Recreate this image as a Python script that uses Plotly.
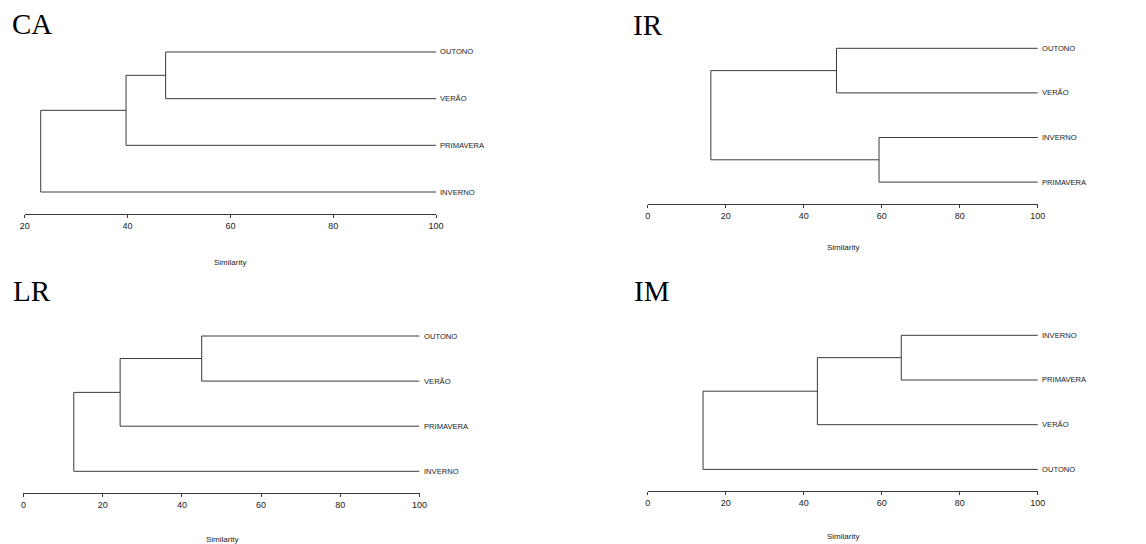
import plotly.graph_objects as go

W, H = 1146, 544

# ---------------- data ----------------
ca_leaves = ["OUTONO", "VERÃO", "PRIMAVERA", "INVERNO"]
ca_merges = [[0, 1, 47.4], [4, 2, 39.7], [5, 3, 23.1]]

ir_leaves = ["OUTONO", "VERÃO", "INVERNO", "PRIMAVERA"]
ir_merges = [[0, 1, 48.4], [2, 3, 59.3], [4, 5, 16.2]]

lr_leaves = ["OUTONO", "VERÃO", "PRIMAVERA", "INVERNO"]
lr_merges = [[0, 1, 45.0], [4, 2, 24.4], [5, 3, 12.7]]

im_leaves = ["INVERNO", "PRIMAVERA", "VERÃO", "OUTONO"]
im_merges = [[0, 1, 65.0], [4, 2, 43.5], [5, 3, 14.2]]

panel_names = ["CA", "IR", "LR", "IM"]
ca_ticks = [20, 40, 60, 80, 100]
other_ticks = [0, 20, 40, 60, 80, 100]
x_min = [20, 0, 0, 0]
axis_title = "Similarity"

# ---------------- layout (pixel geometry) ----------------
# x0_px, x1_px, top_leaf_px, leaf_spacing_px, axis_px, title_x_px, title_y_px
geom = [
    (20.0, 436.0, 52.0, 46.67, 214.0, 5, 24),
    (650.0, 1044.7, 48.3, 44.6, 204.0, 633, 25),
    (18.7, 419.3, 336.0, 45.1, 493.0, 6, 291),
    (650.0, 1044.7, 335.3, 44.7, 491.0, 634, 291),
]
sim_y_px = [262, 248, 539, 536]

panels = [
    (ca_leaves, ca_merges, ca_ticks),
    (ir_leaves, ir_merges, other_ticks),
    (lr_leaves, lr_merges, other_ticks),
    (im_leaves, im_merges, other_ticks),
]

LINE = "#3a3a3a"
fig = go.Figure()
annotations = []

for i, (leaves, merges, ticks) in enumerate(panels):
    n = i + 1
    xa = "x" if n == 1 else f"x{n}"
    ya = "y" if n == 1 else f"y{n}"
    x0, x1, top, sp, axis_px, tx, ty = geom[i]

    # node positions: leaves at similarity 100
    pos = {k: (100.0, float(k)) for k in range(len(leaves))}
    xs, ys = [], []
    for j, (a, b, h) in enumerate(merges):
        (xa_, ya_), (xb_, yb_) = pos[a], pos[b]
        xs += [xa_, h, h, xb_, None]
        ys += [ya_, ya_, yb_, yb_, None]
        pos[len(leaves) + j] = (h, (ya_ + yb_) / 2)

    fig.add_trace(go.Scatter(
        x=xs, y=ys, mode="lines", line=dict(color=LINE, width=1),
        xaxis=xa, yaxis=ya, showlegend=False, hoverinfo="skip", cliponaxis=False,
    ))

    y_bottom = (axis_px - top) / sp
    dom_y = [1 - axis_px / H, 1 - (top - 0.5 * sp) / H]

    fig.update_layout({
        ("xaxis" if n == 1 else f"xaxis{n}"): dict(
            domain=[x0 / W, x1 / W], range=[x_min[i], 100], anchor=ya,
            showline=True, linecolor=LINE, linewidth=1, showgrid=False, zeroline=False,
            ticks="outside", ticklen=3, tickcolor=LINE, tickvals=ticks,
            tickfont=dict(family="Liberation Sans, Arial", size=9, color="#222"),
        ),
        ("yaxis" if n == 1 else f"yaxis{n}"): dict(
            domain=dom_y, range=[y_bottom, -0.5], anchor=xa, visible=False,
        ),
    })

    for k, name in enumerate(leaves):
        annotations.append(dict(
            x=100, y=k, xref=xa, yref=ya, text=name, showarrow=False,
            xanchor="left", yanchor="middle", xshift=2,
            font=dict(family="Liberation Sans, Arial", size=7.6, color="#222"),
        ))

    annotations.append(dict(
        x=(x0 + x1) / 2 / W, y=1 - sim_y_px[i] / H, xref="paper", yref="paper",
        text=axis_title, showarrow=False, xanchor="center", yanchor="middle",
        font=dict(family="Liberation Sans, Arial", size=8, color="#222"),
    ))
    annotations.append(dict(
        x=tx / W, y=1 - ty / H, xref="paper", yref="paper",
        text=panel_names[i], showarrow=False, xanchor="left", yanchor="middle",
        font=dict(family="Liberation Serif, Times New Roman", size=29, color="#000"),
    ))

fig.update_layout(
    width=W, height=H, margin=dict(l=0, r=0, t=0, b=0),
    paper_bgcolor="white", plot_bgcolor="white",
    annotations=annotations,
)

fig.write_html("out.html")
